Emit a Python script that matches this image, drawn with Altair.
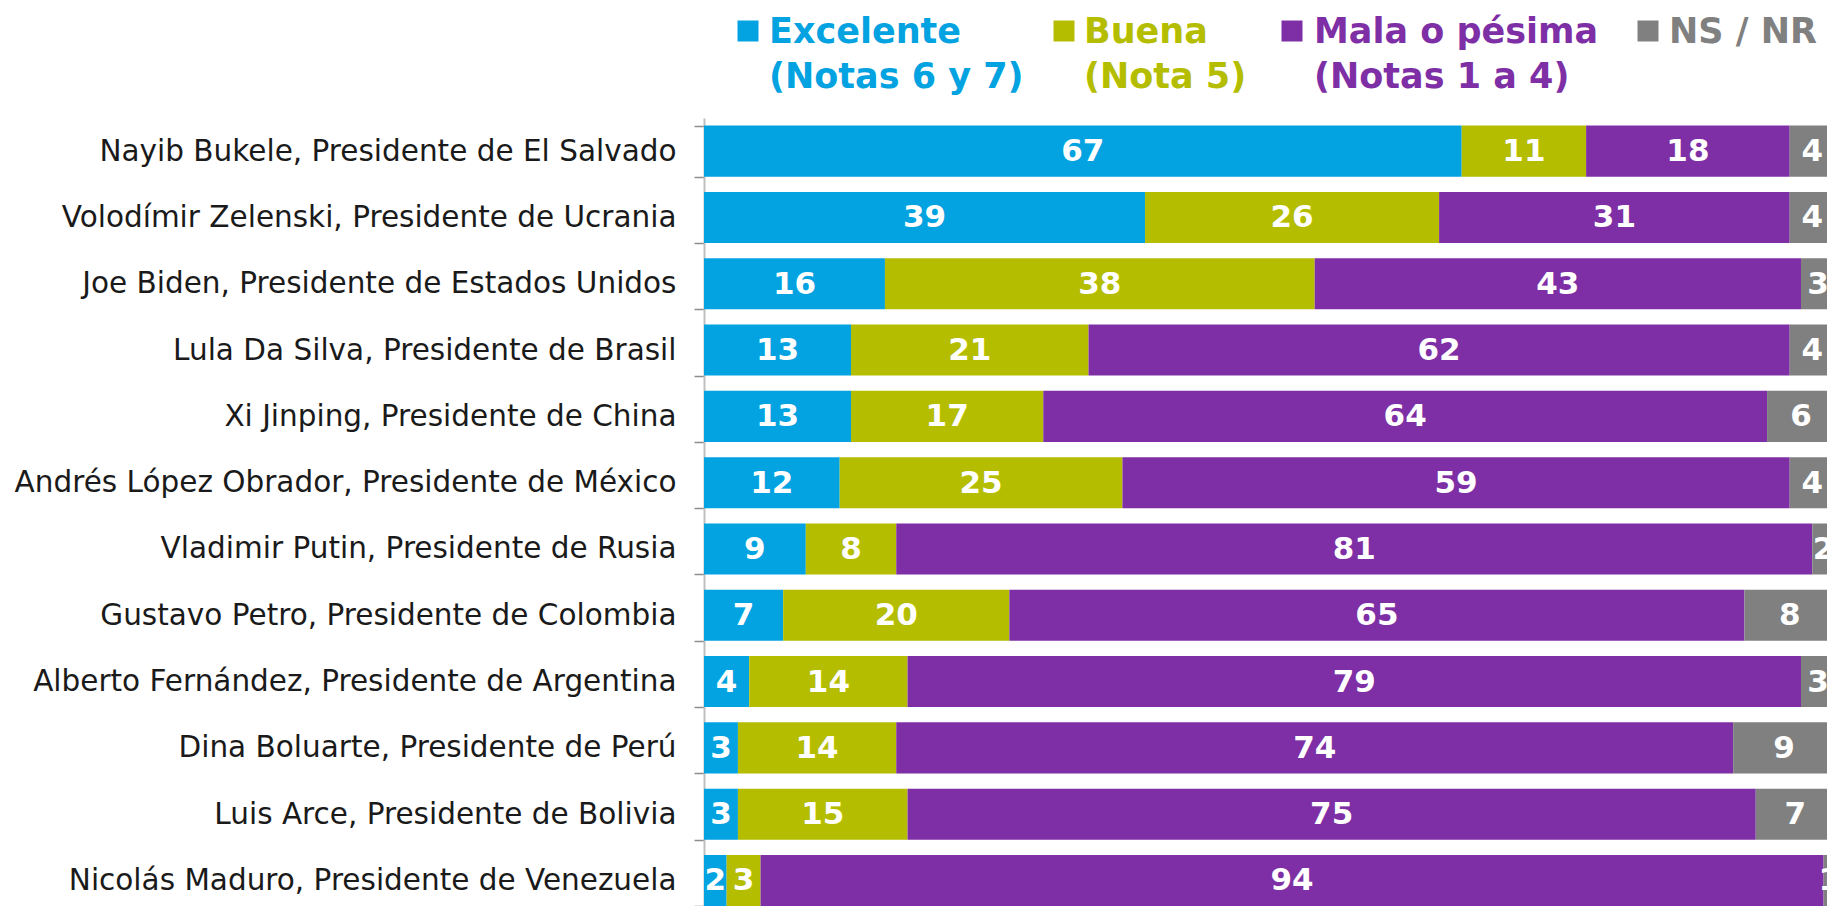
import altair as alt
import pandas as pd

names = [
    "Nayib Bukele, Presidente de El Salvado",
    "Volodímir Zelenski, Presidente de Ucrania",
    "Joe Biden, Presidente de Estados Unidos ",
    "Lula Da Silva, Presidente de Brasil",
    "Xi Jinping, Presidente de China",
    "Andrés López Obrador, Presidente de México",
    "Vladimir Putin, Presidente de Rusia",
    "Gustavo Petro, Presidente de Colombia",
    "Alberto Fernández, Presidente de Argentina",
    "Dina Boluarte, Presidente de Perú",
    "Luis Arce, Presidente de Bolivia",
    "Nicolás Maduro, Presidente de Venezuela",
]
excelente = [67, 39, 16, 13, 13, 12, 9, 7, 4, 3, 3, 2]
buena = [11, 26, 38, 21, 17, 25, 8, 20, 14, 14, 15, 3]
mala = [18, 31, 43, 62, 64, 59, 81, 65, 79, 74, 75, 94]
nsnr = [4, 4, 3, 4, 6, 4, 2, 8, 3, 9, 7, 1]

categories = ["Excelente", "Buena", "Mala o pésima", "NS / NR"]
colors = ["#03A2E0", "#B5BD00", "#7E2FA5", "#808080"]
legend_line1 = ["Excelente", "Buena", "Mala o pésima", "NS / NR"]
legend_line2 = ["(Notas 6 y 7)", "(Nota 5)", "(Notas 1 a 4)", ""]

# layout (pixels relative to plot origin)
LEG_SQ_X = [44, 360, 588, 944]
LEG_TX_X = [65, 380, 610, 965]
LEG_SQ_Y = -87
LEG_L1_Y = -75
LEG_L2_Y = -30
BOLD_FONT = "DejaVu Sans"
LABEL_FONT = "DejaVu Sans"
PLOT_W = 1123
PLOT_H = 788
X_MAX = 99.3  # visible part of the 0-100 axis (right edge is cut like the original)

series = [excelente, buena, mala, nsnr]
rows = []
for i, n in enumerate(names):
    for k, cat in enumerate(categories):
        rows.append({"name": n, "cat": cat, "order": k, "value": series[k][i]})
df = pd.DataFrame(rows)

yenc = alt.Y(
    "name:N",
    sort=names,
    scale=alt.Scale(paddingInner=0.23, paddingOuter=0.0575, align=1),
    axis=alt.Axis(
        title=None,
        labelFont=LABEL_FONT,
        labelFontSize=29.5,
        labelFontWeight="normal",
        labelColor="#1a1a1a",
        labelPadding=18,
        labelLimit=0,
        tickBand="extent",
        tickSize=10,
        tickColor="#8C8C8C",
        tickWidth=1.5,
        domainColor="#BFBFBF",
        domainWidth=2,
    ),
)

base = (
    alt.Chart(df)
    .transform_stack(
        stack="value",
        as_=["x0", "x1"],
        groupby=["name"],
        sort=[alt.SortField(field="order", order="ascending")],
    )
    .transform_calculate(mid="(datum.x0 + datum.x1) / 2")
)

bars = base.mark_bar(clip=True).encode(
    y=yenc,
    x=alt.X("x0:Q", scale=alt.Scale(domain=[0, X_MAX], nice=False, zero=True), axis=None),
    x2="x1:Q",
    color=alt.Color("cat:N", scale=alt.Scale(domain=categories, range=colors), legend=None),
)

labels = base.mark_text(
    font=BOLD_FONT, fontWeight="bold", fontSize=31, color="white",
    baseline="middle", align="center", clip=True, dy=1,
).encode(
    y=alt.Y("name:N", sort=names),
    x="mid:Q",
    text="value:Q",
)

layers = [bars, labels]
for i in range(len(categories)):
    sq = alt.Chart(pd.DataFrame({"c": [categories[i]]})).mark_square(
        size=441, color=colors[i], filled=True, opacity=1
    ).encode(x=alt.value(LEG_SQ_X[i]), y=alt.value(LEG_SQ_Y))
    t1 = alt.Chart(pd.DataFrame({"t": [legend_line1[i]]})).mark_text(
        font=BOLD_FONT, fontWeight="bold", fontSize=35, color=colors[i], align="left", baseline="alphabetic"
    ).encode(x=alt.value(LEG_TX_X[i]), y=alt.value(LEG_L1_Y), text="t:N")
    layers += [sq, t1]
    if legend_line2[i]:
        t2 = alt.Chart(pd.DataFrame({"t": [legend_line2[i]]})).mark_text(
            font=BOLD_FONT, fontWeight="bold", fontSize=35, color=colors[i], align="left", baseline="alphabetic"
        ).encode(x=alt.value(LEG_TX_X[i]), y=alt.value(LEG_L2_Y), text="t:N")
        layers.append(t2)

chart = (
    alt.layer(*layers)
    .properties(
        width=PLOT_W,
        height=PLOT_H,
        autosize=alt.AutoSizeParams(type="none"),
        padding={"left": 696, "top": 110, "right": 0, "bottom": 0},
    )
    .configure_view(stroke=None)
)

chart.save("out.html", embed_options={"renderer": "svg", "actions": False})
